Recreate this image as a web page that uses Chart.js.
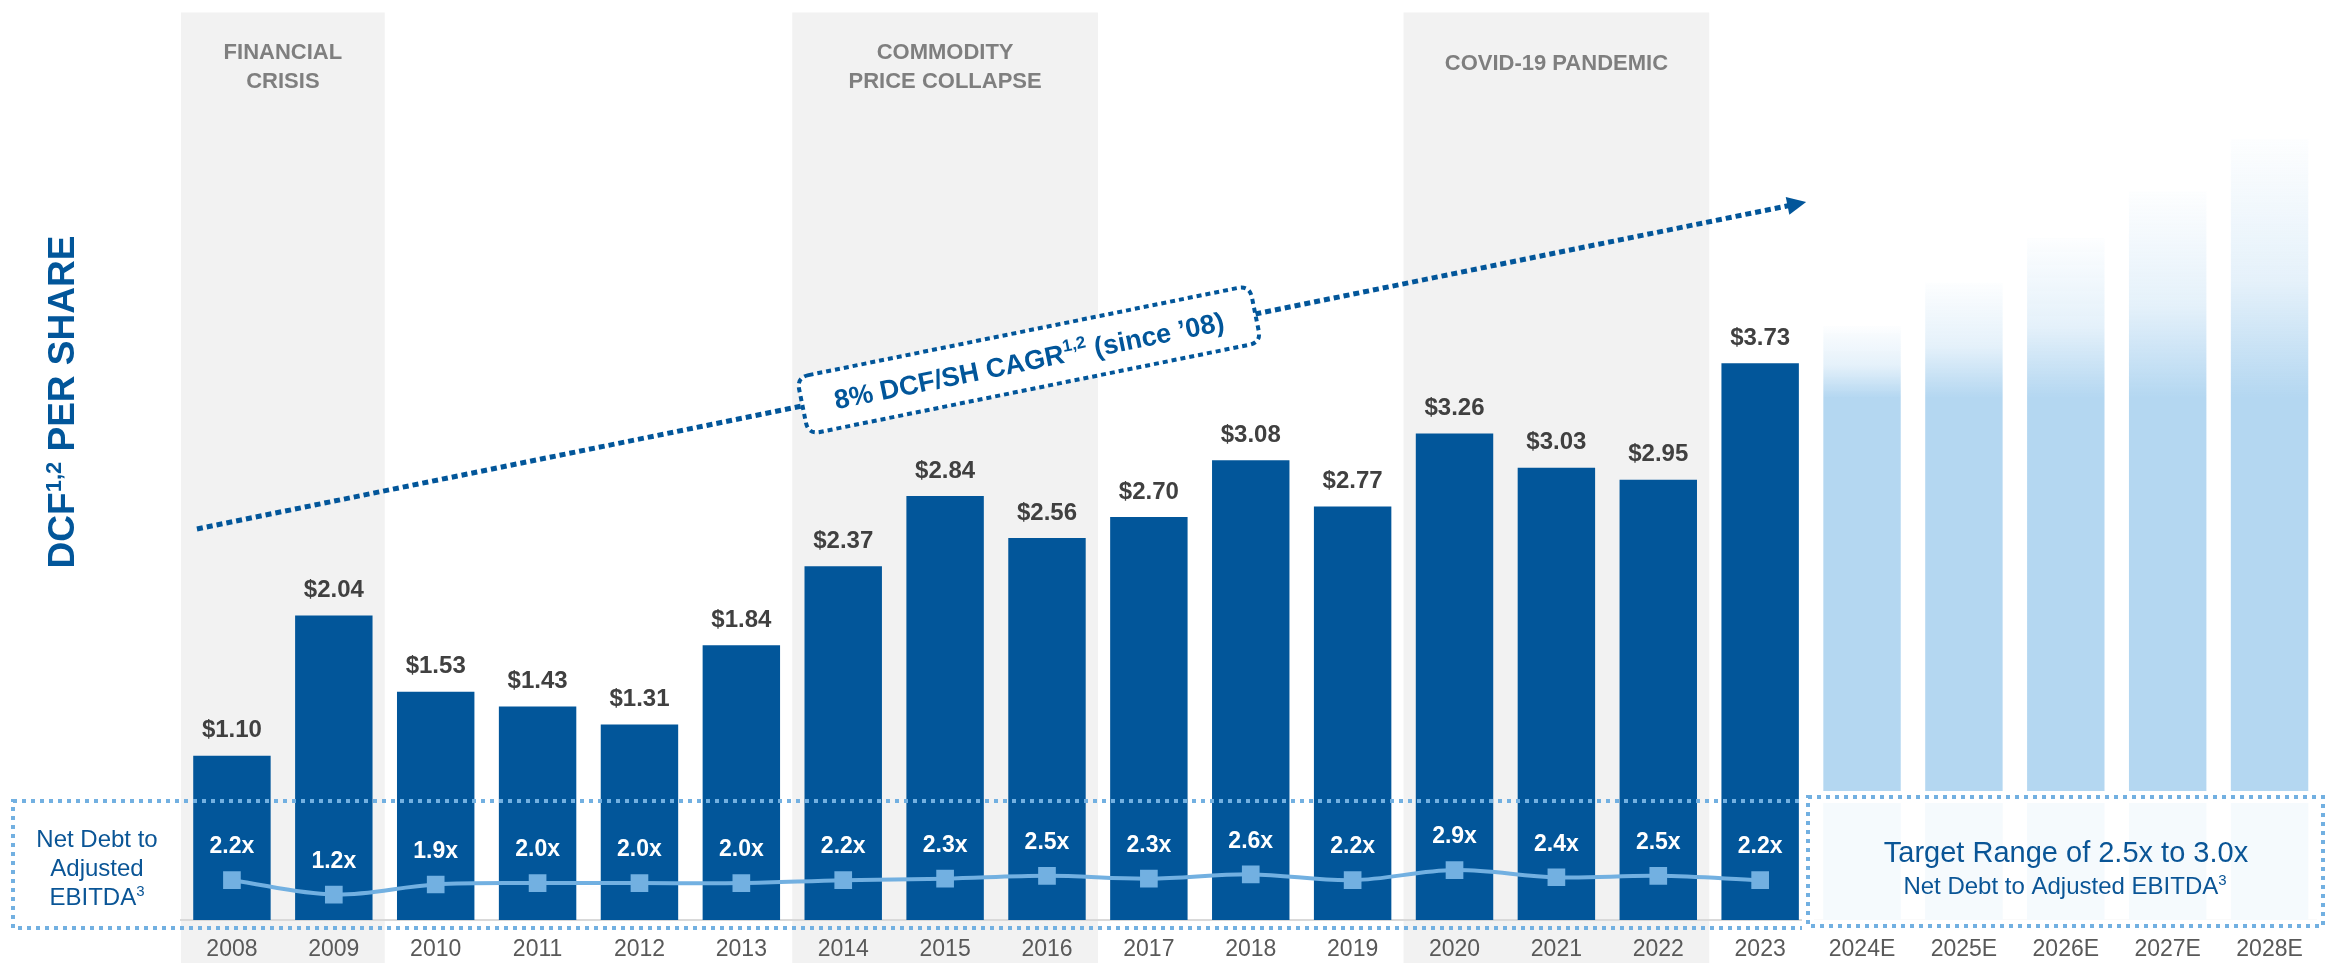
<!DOCTYPE html>
<html>
<head>
<meta charset="utf-8">
<script src="https://cdn.jsdelivr.net/npm/chart.js@4.4.1/dist/chart.umd.min.js"></script>
<style>
    html, body { margin: 0; padding: 0; background: #ffffff; }
    #wrap { position: relative; width: 2333px; height: 963px; }
</style>
</head>
<body>
<div id="wrap"><canvas id="dcf-chart"></canvas></div>
<script>
var years = ['2008', '2009', '2010', '2011', '2012', '2013', '2014', '2015', '2016', '2017',
    '2018', '2019', '2020', '2021', '2022', '2023', '2024E', '2025E', '2026E', '2027E', '2028E'];
var dcfPerShare = [1.10, 2.04, 1.53, 1.43, 1.31, 1.84, 2.37, 2.84, 2.56, 2.70, 3.08, 2.77, 3.26, 3.03, 2.95, 3.73];
var dcfOutlook = [3.98, 4.27, 4.57, 4.88, 5.23];   // illustrative, unlabeled
var leverage = [2.2, 1.2, 1.9, 2.0, 2.0, 2.0, 2.2, 2.3, 2.5, 2.3, 2.6, 2.2, 2.9, 2.4, 2.5, 2.2];

var shadedFrom = ['2008', '2014', '2020'];
var shadedTo = ['2009', '2016', '2022'];
var shadedTitles = [['FINANCIAL', 'CRISIS'], ['COMMODITY', 'PRICE COLLAPSE'], ['COVID-19 PANDEMIC']];

var FONT = "'Liberation Sans', Arial, sans-serif";
var DARK_BLUE = '#02569A';
var LIGHT_BLUE = '#72B0E1';
var TEXT_BLUE = '#0A5596';

// mixed runs of text (for superscripts), centred on x, y is the baseline
function runsWidth(ctx, runs) {
    var w = 0;
    runs.forEach(function (r) { ctx.font = r.font; w += ctx.measureText(r.text).width; });
    return w;
}
function drawRuns(ctx, runs, x, y) {
    var cx = x - runsWidth(ctx, runs) / 2;
    ctx.textAlign = 'left';
    ctx.textBaseline = 'alphabetic';
    runs.forEach(function (r) {
        ctx.font = r.font;
        ctx.fillText(r.text, cx, y + (r.rise || 0));
        cx += ctx.measureText(r.text).width;
    });
}
function dottedRect(ctx, x, y, w, h, color) {
    ctx.save();
    ctx.strokeStyle = color;
    ctx.lineWidth = 4;
    ctx.setLineDash([4, 5]);
    ctx.strokeRect(x, y, w, h);
    ctx.restore();
}
function roundedPath(ctx, x, y, w, h, r) {
    ctx.beginPath();
    ctx.moveTo(x + r, y);
    ctx.lineTo(x + w - r, y);
    ctx.quadraticCurveTo(x + w, y, x + w, y + r);
    ctx.lineTo(x + w, y + h - r);
    ctx.quadraticCurveTo(x + w, y + h, x + w - r, y + h);
    ctx.lineTo(x + r, y + h);
    ctx.quadraticCurveTo(x, y + h, x, y + h - r);
    ctx.lineTo(x, y + r);
    ctx.quadraticCurveTo(x, y, x + r, y);
    ctx.closePath();
}

// grey bands behind crisis years, down through the year labels
var shadingPlugin = {
    id: 'shading',
    beforeDraw: function (chart) {
        var ctx = chart.ctx, x = chart.scales.x, area = chart.chartArea;
        var half = (x.getPixelForValue(1) - x.getPixelForValue(0)) / 2;
        ctx.save();
        shadedFrom.forEach(function (from, i) {
            var left = x.getPixelForValue(years.indexOf(from)) - half;
            var right = x.getPixelForValue(years.indexOf(shadedTo[i])) + half;
            ctx.fillStyle = '#F2F2F2';
            ctx.fillRect(left, area.top, right - left, chart.height - area.top);
            ctx.fillStyle = '#7F7F7F';
            ctx.font = 'bold 22px ' + FONT;
            ctx.textAlign = 'center';
            ctx.textBaseline = 'alphabetic';
            var lines = shadedTitles[i];
            var ys = lines.length === 1 ? [70] : [59, 88];
            lines.forEach(function (t, k) { ctx.fillText(t, (left + right) / 2, ys[k]); });
        });
        ctx.restore();
    }
};

var overlayPlugin = {
    id: 'overlay',
    afterDatasetsDraw: function (chart) {
        var ctx = chart.ctx;
        var yScale = chart.scales.y;
        var xScale = chart.scales.x;
        var bars = chart.getDatasetMeta(1).data;
        var points = chart.getDatasetMeta(0).data;

        ctx.save();
        // $ labels over actual bars
        ctx.fillStyle = '#404040';
        ctx.font = 'bold 24px ' + FONT;
        ctx.textAlign = 'center';
        ctx.textBaseline = 'middle';
        dcfPerShare.forEach(function (v, i) {
            ctx.fillText('$' + v.toFixed(2), bars[i].x, bars[i].y - 25);
        });

        // leverage multiples inside the bars
        ctx.fillStyle = '#FFFFFF';
        ctx.font = 'bold 23px ' + FONT;
        leverage.forEach(function (v, i) {
            ctx.fillText(v.toFixed(1) + 'x', points[i].x, points[i].y - 33);
        });

        // leverage box, history
        dottedRect(ctx, 13, 801, 1795, 127, LIGHT_BLUE);
        ctx.fillStyle = TEXT_BLUE;
        var f24 = '24px ' + FONT, sup = '15px ' + FONT;
        drawRuns(ctx, [{ text: 'Net Debt to', font: f24 }], 97, 847);
        drawRuns(ctx, [{ text: 'Adjusted', font: f24 }], 97, 876);
        drawRuns(ctx, [{ text: 'EBITDA', font: f24 }, { text: '3', font: sup, rise: -9 }], 97, 905);

        // target box over the outlook bars
        ctx.fillStyle = 'rgba(255,255,255,0.86)';
        ctx.fillRect(1808, 797, 515, 129);
        ctx.strokeStyle = '#FFFFFF';
        ctx.lineWidth = 12;
        ctx.strokeRect(1808, 797, 515, 129);
        dottedRect(ctx, 1808, 797, 515, 129, LIGHT_BLUE);
        ctx.fillStyle = TEXT_BLUE;
        drawRuns(ctx, [{ text: 'Target Range of 2.5x to 3.0x', font: '29px ' + FONT }], 2066, 862);
        drawRuns(ctx, [{ text: 'Net Debt to Adjusted EBITDA', font: f24 },
            { text: '3', font: sup, rise: -9 }], 2065, 894);

        // growth arrow
        var x0 = xScale.getPixelForValue(0) - 35, y0 = yScale.getPixelForValue(2.62);
        var x1 = xScale.getPixelForValue(15) + 46, y1 = yScale.getPixelForValue(4.81);
        var ang = Math.atan2(y1 - y0, x1 - x0);
        ctx.strokeStyle = DARK_BLUE;
        ctx.lineWidth = 5;
        ctx.setLineDash([6, 4]);
        ctx.beginPath();
        ctx.moveTo(x0, y0);
        ctx.lineTo(x1 - 16 * Math.cos(ang), y1 - 16 * Math.sin(ang));
        ctx.stroke();
        ctx.setLineDash([]);
        ctx.save();
        ctx.translate(x1, y1);
        ctx.rotate(ang);
        ctx.fillStyle = DARK_BLUE;
        ctx.beginPath();
        ctx.moveTo(0, 0);
        ctx.lineTo(-19, -9);
        ctx.lineTo(-19, 9);
        ctx.closePath();
        ctx.fill();
        ctx.restore();

        // CAGR callout on the arrow
        var f = 0.517;
        ctx.save();
        ctx.translate(x0 + (x1 - x0) * f, y0 + (y1 - y0) * f);
        ctx.rotate(ang);
        roundedPath(ctx, -231, -29, 462, 58, 12);
        ctx.fillStyle = '#FFFFFF';
        ctx.fill();
        ctx.strokeStyle = DARK_BLUE;
        ctx.lineWidth = 4;
        ctx.setLineDash([5, 4]);
        ctx.stroke();
        ctx.setLineDash([]);
        ctx.fillStyle = DARK_BLUE;
        drawRuns(ctx, [{ text: '8% DCF/SH CAGR', font: 'bold 27px ' + FONT },
            { text: '1,2', font: 'bold 17px ' + FONT, rise: -11 },
            { text: ' (since \u201908)', font: 'bold 27px ' + FONT }], 0, 10);
        ctx.restore();

        // vertical axis title
        ctx.save();
        ctx.translate(61, 402);
        ctx.rotate(-Math.PI / 2);
        ctx.fillStyle = DARK_BLUE;
        drawRuns(ctx, [{ text: 'DCF', font: 'bold 37px ' + FONT },
            { text: '1,2', font: 'bold 22px ' + FONT, rise: -13 },
            { text: ' PER SHARE', font: 'bold 37px ' + FONT }], 0, 13);
        ctx.restore();

        ctx.restore();
    }
};

function barColor(context) {
    if (context.dataIndex < dcfPerShare.length) return DARK_BLUE;
    var chart = context.chart;
    if (!chart.chartArea) return '#B4D7F1';
    var y = chart.scales.y;
    var top = y.getPixelForValue(context.raw);
    var solid = y.getPixelForValue(3.5);
    var g = chart.ctx.createLinearGradient(0, top, 0, Math.max(solid, top + 1));
    g.addColorStop(0, 'rgba(180,215,241,0.03)');
    g.addColorStop(0.55, 'rgba(180,215,241,0.35)');
    g.addColorStop(1, 'rgba(180,215,241,1)');
    return g;
}

var chart = new Chart(document.getElementById('dcf-chart'), {
    data: {
        labels: years,
        datasets: [{
            type: 'line',
            label: 'Net Debt to Adjusted EBITDA',
            data: leverage,
            yAxisID: 'y2',
            borderColor: LIGHT_BLUE,
            borderWidth: 4,
            tension: 0.35,
            pointStyle: 'rect',
            pointRadius: 12.5,
            pointBackgroundColor: LIGHT_BLUE,
            pointBorderWidth: 0,
            order: 0
        }, {
            type: 'bar',
            label: 'DCF per share',
            data: dcfPerShare.concat(dcfOutlook),
            yAxisID: 'y',
            backgroundColor: barColor,
            barPercentage: 0.76,
            categoryPercentage: 1,
            order: 1
        }]
    },
    options: {
        responsive: true,
        maintainAspectRatio: false,
        animation: false,
        events: [],
        layout: { padding: { left: 181, right: 4, top: 8, bottom: 0 } },
        plugins: {
            legend: { display: false },
            tooltip: { enabled: false }
        },
        scales: {
            x: {
                grid: { display: false, drawTicks: false },
                border: { display: true, color: '#D9D9D9', width: 2 },
                ticks: {
                    color: '#595959',
                    padding: 16,
                    maxRotation: 0,
                    autoSkip: false,
                    font: { size: 23, family: FONT }
                },
                afterFit: function (s) { s.height = 43; }
            },
            y: {
                display: false,
                min: 0,
                max: 6.08
            },
            y2: {
                display: false,
                min: -0.56,
                max: 62.3
            }
        }
    },
    plugins: [shadingPlugin, overlayPlugin]
});
</script>
</body>
</html>
